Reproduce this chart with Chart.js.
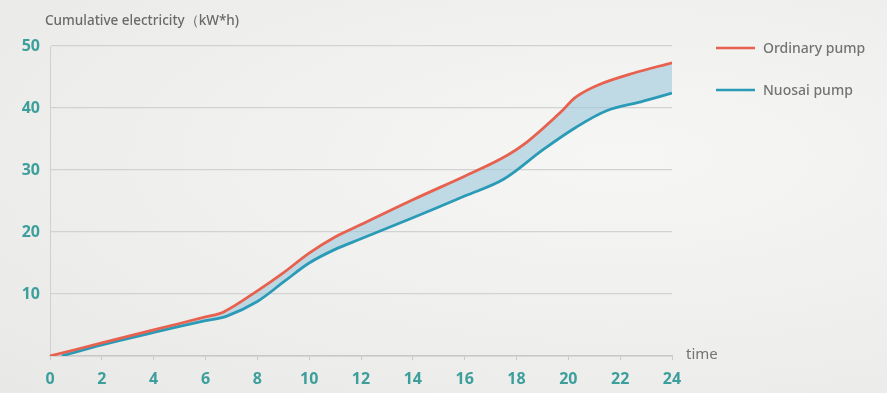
<!DOCTYPE html>
<html>
<head>
<meta charset="utf-8">
<script src="https://cdn.jsdelivr.net/npm/chart.js@4/dist/chart.umd.min.js"></script>
<style>
  html, body { margin: 0; padding: 0; background: #efefed; }
  #wrap { width: 887px; height: 393px; position: relative;
          background: radial-gradient(ellipse at 70% 40%, #f6f6f4 0%, #eeeeec 60%, #e8e8e6 100%); }
  canvas { display: block; }
</style>
</head>
<body>
<div id="wrap"><canvas id="c" width="887" height="393"></canvas></div>
<script>
// Cumulative electricity (kW*h) against time for the two pumps
const ordinaryTime  = [0, 2, 4, 6, 6.7, 8, 9, 10, 11, 12, 14, 16, 17.4, 18.4, 19.7, 20.3, 21.2, 22.5, 24];
const ordinaryValue = [0, 2.1, 4.2, 6.3, 7.1, 10.5, 13.4, 16.6, 19.2, 21.2, 25.2, 29.0, 31.8, 34.5, 39.3, 41.8, 43.8, 45.6, 47.3];

const nuosaiTime  = [0.45, 2, 4, 6, 6.8, 8, 9, 10, 11, 12, 14, 16, 17.5, 19, 20.3, 21.5, 22.8, 24];
const nuosaiValue = [0, 1.8, 3.8, 5.7, 6.4, 8.8, 11.9, 15.0, 17.2, 18.9, 22.3, 25.8, 28.5, 33.2, 36.9, 39.6, 41.0, 42.4];

const seriesNames = ['Ordinary pump', 'Nuosai pump'];
const yTitle = 'Cumulative electricity（kW*h)';
const xTitle = 'time';

const toPoints = (xs, ys) => xs.map((x, i) => ({ x: x, y: ys[i] }));

const RED = '#e8604e';
const BLUE = '#2b9ab6';
const TICK = '#3d9f9c';
const TEXT = '#737373';
const FONT = '"Noto Sans", "Open Sans", sans-serif';

// Axis titles and the legend on the right
const annotations = {
  id: 'annotations',
  afterDraw(chart) {
    const ctx = chart.ctx;
    const area = chart.chartArea;
    ctx.save();
    ctx.fillStyle = '#6a6a6a';
    ctx.font = '500 13.5px ' + FONT;
    ctx.textBaseline = 'middle';
    ctx.textAlign = 'left';
    ctx.fillText(yTitle, 45, 21);
    ctx.fillStyle = TEXT;
    ctx.font = '15px ' + FONT;
    ctx.fillText(xTitle, area.right + 14, area.bottom - 1);

    const items = chart.data.datasets;
    items.forEach((ds, i) => {
      const y = 48 + i * 42;
      ctx.strokeStyle = ds.borderColor;
      ctx.lineWidth = 2.5;
      ctx.beginPath();
      ctx.moveTo(716, y);
      ctx.lineTo(755, y);
      ctx.stroke();
      ctx.fillStyle = TEXT;
      ctx.font = '500 14px ' + FONT;
      ctx.fillText(ds.label, 763, y + 1);
    });
    ctx.restore();
  }
};

new Chart(document.getElementById('c'), {
  type: 'line',
  data: {
    datasets: [
      {
        label: seriesNames[0],
        data: toPoints(ordinaryTime, ordinaryValue),
        borderColor: RED,
        borderWidth: 2.8,
        pointRadius: 0,
        tension: 0.35,
        fill: false
      },
      {
        label: seriesNames[1],
        data: toPoints(nuosaiTime, nuosaiValue),
        borderColor: BLUE,
        borderWidth: 2.8,
        pointRadius: 0,
        tension: 0.35,
        fill: { target: 0 },
        backgroundColor: 'rgba(150, 196, 218, 0.55)'
      }
    ]
  },
  options: {
    responsive: false,
    animation: false,
    layout: { padding: { left: 0, right: 215, top: 46, bottom: 0 } },
    plugins: { legend: { display: false }, tooltip: { enabled: false } },
    scales: {
      x: {
        type: 'linear',
        min: 0, max: 24,
        border: { display: true, color: '#c8c8c8', width: 1.5 },
        grid: { display: true, drawOnChartArea: false, drawTicks: true, tickLength: 4, color: '#c8c8c8' },
        ticks: {
          stepSize: 2, color: TICK, padding: 10,
          font: { family: FONT, size: 16, weight: 'bold' }
        },
        afterFit(scale) { scale.height = 37; }
      },
      y: {
        min: 0, max: 50,
        border: { display: true, color: '#d0d0d0', width: 1 },
        grid: { color: '#d2d2d2', lineWidth: 1.2, drawTicks: false },
        ticks: {
          stepSize: 10, color: TICK, padding: 10,
          font: { family: FONT, size: 16, weight: 'bold' },
          callback: v => (v === 0 ? '' : v)
        },
        afterFit(scale) { scale.width = 50; }
      }
    }
  },
  plugins: [annotations]
});
</script>
</body>
</html>
